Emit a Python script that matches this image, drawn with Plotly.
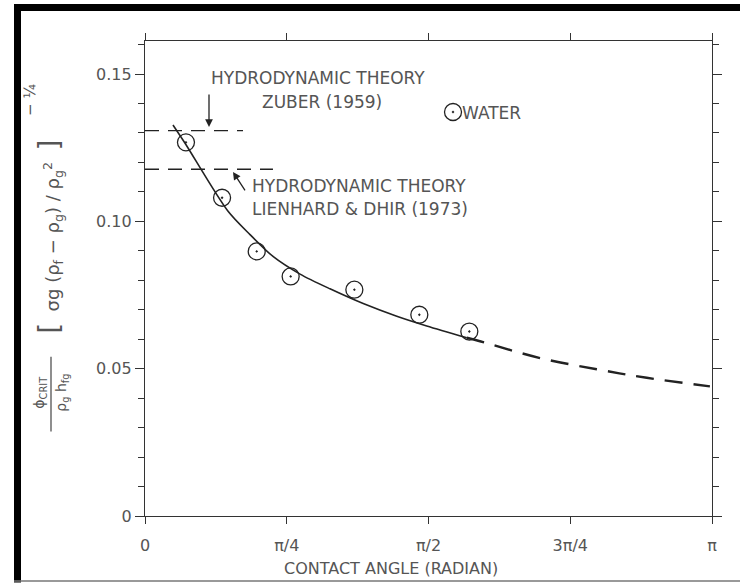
import math
import plotly.graph_objects as go

# ---------------- data ----------------
water_x = [0.227, 0.427, 0.619, 0.807, 1.160, 1.520, 1.797]
water_y = [0.1268, 0.1080, 0.0898, 0.0813, 0.0768, 0.0683, 0.0626]

fit_solid_x = [0.155, 0.222, 0.458, 0.582, 0.711, 0.859, 1.025, 1.209, 1.395, 1.561, 1.783]
fit_solid_y = [0.1327, 0.1265, 0.1036, 0.0955, 0.0880, 0.0821, 0.0771, 0.0721, 0.0678, 0.0645, 0.0605]

fit_dash_x = [1.783, 1.856, 2.189, 2.503, 2.780, 3.130]
fit_dash_y = [0.0605, 0.0593, 0.0536, 0.0498, 0.0469, 0.0440]

zuber_y = 0.1308
zuber_x = [0.0, 0.543]
lienhard_y = 0.1177
lienhard_x = [0.0, 0.709]

x_tickvals = [0, math.pi / 4, math.pi / 2, 3 * math.pi / 4, math.pi]
x_ticktext = ["0", "π/4", "π/2", "3π/4", "π"]
y_tickvals = [0, 0.05, 0.10, 0.15]
y_ticktext = ["0", "0.05", "0.10", "0.15"]

# ---------------- layout geometry ----------------
W, H = 740, 583
L, R, T, B = 145, 28, 41, 66.5
PW, PH = W - L - R, H - T - B
Y_TOP = 0.1612

def px(x):
    return (x - L) / PW

def py(y):
    return (H - B - y) / PH

INK = "#222222"
TXT = "#555555"
FONT = "DejaVu Sans"

fig = go.Figure()

fig.add_trace(go.Scatter(x=zuber_x, y=[zuber_y, zuber_y], mode="lines",
                         line=dict(color=INK, width=1.4, dash="14px,9px"), hoverinfo="skip"))
fig.add_trace(go.Scatter(x=lienhard_x, y=[lienhard_y, lienhard_y], mode="lines",
                         line=dict(color=INK, width=1.4, dash="14px,9px"), hoverinfo="skip"))
fig.add_trace(go.Scatter(x=fit_solid_x, y=fit_solid_y, mode="lines",
                         line=dict(color=INK, width=1.6, shape="spline", smoothing=0.8),
                         hoverinfo="skip"))
fig.add_trace(go.Scatter(x=fit_dash_x, y=fit_dash_y, mode="lines",
                         line=dict(color=INK, width=2.4, shape="spline", dash="18px,11px"),
                         hoverinfo="skip"))
fig.add_trace(go.Scatter(x=water_x, y=water_y, mode="markers",
                         marker=dict(symbol="circle-open-dot", size=17, color=INK,
                                     line=dict(width=1.3, color=INK))))
# legend symbol
fig.add_trace(go.Scatter(x=[1.7066], y=[0.1371], mode="markers",
                         marker=dict(symbol="circle-open-dot", size=17, color=INK,
                                     line=dict(width=1.3, color=INK))))

axis_common = dict(showline=True, linecolor="#333333", linewidth=1.4, mirror="ticks",
                   ticks="outside", tickcolor="#333333", tickwidth=1.4, showgrid=False,
                   zeroline=False, tickfont=dict(family=FONT, size=16, color=TXT))

fig.update_xaxes(range=[0, math.pi], tickvals=x_tickvals, ticktext=x_ticktext,
                 ticklen=7, ticklabelstandoff=8, **axis_common)
fig.update_yaxes(range=[0, Y_TOP], tickvals=y_tickvals, ticktext=y_ticktext,
                 ticklen=9,
                 minor=dict(dtick=0.01, tick0=0, ticks="outside", ticklen=6,
                            tickcolor="#333333", tickwidth=1.3),
                 **axis_common)

ann = []
def text(x, y, t, size=17, xanchor="center", angle=0, color=TXT):
    ann.append(dict(x=px(x), y=py(y), xref="paper", yref="paper", text=t, showarrow=False,
                    xanchor=xanchor, yanchor="middle", textangle=angle,
                    font=dict(family=FONT, size=size, color=color)))

text(318, 78, "HYDRODYNAMIC THEORY")
text(322, 102, "ZUBER (1959)")
text(460, 113, "WATER", xanchor="left")
text(250, 186, "HYDRODYNAMIC THEORY", xanchor="left")
text(250, 209, "LIENHARD &amp; DHIR (1973)", xanchor="left")
text(391, 569, "CONTACT ANGLE (RADIAN)", size=16)

# y-axis label (rotated)
text(40, 393, "ϕ<sub>CRIT</sub>", size=14, angle=-90)
text(62, 393, "ρ<sub>g</sub> h<sub>fg</sub>", size=14, angle=-90)
text(50, 237, "<span style='font-size:28px'>[</span>&nbsp;&nbsp;σg (ρ<sub>f</sub> − ρ<sub>g</sub>) / ρ<sub>g</sub><sup>2</sup>&nbsp;&nbsp;<span style='font-size:28px'>]</span>",
     size=18, angle=-90)
text(30, 100, "− ¼", size=15, angle=-90)

# arrows
ann.append(dict(x=(209 - L) * math.pi / PW, y=(H - B - 127) / 2950, xref="x", yref="y",
                ax=0, ay=-34, showarrow=True, arrowhead=2, arrowsize=1.2, arrowwidth=1.3,
                arrowcolor=INK, text=""))
ann.append(dict(x=(233 - L) * math.pi / PW, y=(H - B - 172) / 2950, xref="x", yref="y",
                ax=13, ay=20, showarrow=True, arrowhead=2, arrowsize=1.2, arrowwidth=1.3,
                arrowcolor=INK, text=""))

shapes = [
    # fraction bar of y label
    dict(type="line", xref="paper", yref="paper", x0=px(51), x1=px(51), y0=py(357), y1=py(432),
         line=dict(color="#444444", width=1.2)),
    # scan frame
    dict(type="rect", xref="paper", yref="paper", x0=px(14), x1=px(21), y0=py(583), y1=py(4),
         fillcolor="black", line=dict(width=0)),
    dict(type="rect", xref="paper", yref="paper", x0=px(14), x1=px(740), y0=py(11), y1=py(4),
         fillcolor="black", line=dict(width=0)),
    dict(type="line", xref="paper", yref="paper", x0=px(14), x1=px(740), y0=py(581.5), y1=py(581.5),
         line=dict(color="#777777", width=1.5)),
]

fig.update_layout(width=W, height=H, margin=dict(l=L, r=R, t=T, b=B),
                  paper_bgcolor="white", plot_bgcolor="white", showlegend=False,
                  annotations=ann, shapes=shapes)

fig.write_html("out.html")
